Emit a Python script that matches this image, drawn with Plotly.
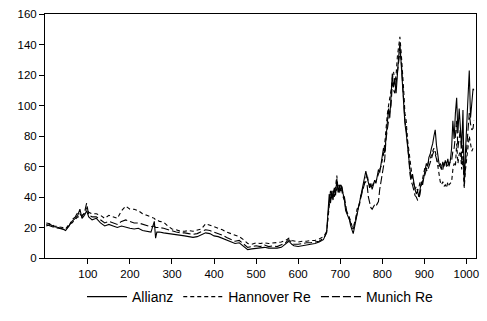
import plotly.graph_objects as go

# observation index (x axis)
day = [1, 10, 20, 30, 40, 47, 55, 62, 70, 76, 81, 86, 92, 97, 102, 110, 120, 130, 140, 150,
       160, 170, 180, 190, 200, 210, 220, 230, 240, 250, 258, 261, 264, 270, 280, 290, 300,
       310, 320, 330, 340, 350, 360, 370, 380, 390, 400, 410, 420, 430, 440, 450, 460, 470,
       480, 490, 500, 510, 520, 530, 540, 550, 560, 570, 578, 585, 590, 600, 610, 620, 630,
       640, 650, 655, 660,
       665, 668, 671, 674, 677, 680, 683, 686, 689, 692, 695, 698, 701, 704, 707, 710,
       713, 716, 719, 722, 725, 728, 731, 734, 737, 740, 743, 746, 749, 752, 755, 758,
       761, 764, 767, 770, 773, 776, 779, 782, 785, 788, 791, 794, 797, 800, 803, 806,
       809, 812, 815, 818, 821, 824, 827, 830, 833, 836, 839, 842, 845, 848, 851, 854,
       857, 860, 863, 866, 869, 872, 875, 878, 881, 884, 887, 890, 893, 896, 899, 902,
       905, 908, 911, 914, 917, 920, 923, 926, 929, 932, 935, 938, 941, 944, 947, 950,
       953, 956, 959, 962, 965, 968, 971, 974, 977, 980, 983, 986, 989, 992, 995, 998,
       1001, 1004, 1007, 1010, 1013, 1016, 1018]

allianz = [21, 22, 20.5, 20, 19, 18, 21, 24, 26, 28, 32, 26, 28, 31, 27, 25, 26, 23, 21, 22,
           21, 20, 21, 20, 19.5, 19, 19.5, 18, 17.5, 17, 24, 13, 17, 17, 16.5, 16, 15.5,
           15, 15, 14.5, 14, 13.5, 14, 15.5, 16.5, 16, 14.5, 14, 13, 11.5, 10.5, 9.5, 10, 8,
           5.5, 6, 6.5, 6.5, 7, 6.5, 6.5, 6.5, 7, 9, 11, 9, 8, 7.5, 8, 8.5, 9,
           9.5, 10.5, 11, 12,
           15, 18, 30, 42, 36, 44, 38, 46, 41, 52, 43, 48, 44, 47, 42, 38,
           31, 29, 27, 25, 21, 18, 16, 20, 24, 29, 33, 37, 42, 45, 50, 54,
           57, 53, 48, 46, 49, 45, 48, 51, 49, 55, 58, 56, 62, 66, 72, 69,
           80, 85, 98, 92, 108, 121, 112, 117, 108, 125, 132, 141, 128, 112, 105, 88,
           82, 72, 66, 58, 52, 55, 48, 45, 42, 44, 40, 46, 50, 48, 55, 58,
           62, 60, 66, 68, 72, 75, 80, 84, 74, 68, 62, 60, 58, 63, 60, 64,
           61, 65, 60, 64, 72, 90, 78, 95, 105, 82, 98, 85, 72, 97, 47, 70,
           88, 100, 123, 92, 104, 111, 110]

hannover = [23, 22.5, 21, 20.5, 20, 19, 22, 23, 25, 27, 27, 28, 29, 33, 30, 29, 29, 28, 26, 28,
            27, 26, 31, 34, 32, 32, 31, 29, 28, 27, 26, 25, 25, 24, 23.5, 21, 19,
            18.5, 17.5, 17.5, 18, 17.5, 18, 19, 22.5, 21.5, 20.5, 20, 18.5, 17, 16, 15.5, 14, 12,
            9.5, 9, 10, 9.5, 10, 9.5, 10, 10, 10.5, 11.5, 13, 11.5, 11, 10.5, 11, 11, 11.5,
            11.5, 12.5, 13, 14,
            16, 17, 26, 36, 42, 38, 44, 40, 47, 54, 45, 42, 46, 44, 40, 38,
            33, 30, 29, 27, 24, 21, 20, 23, 26, 32, 34, 35, 41, 44, 47, 50,
            52, 55, 50, 48, 46, 47, 49, 48, 50, 53, 55, 58, 60, 64, 68, 75,
            86, 94, 100, 104, 110, 118, 122, 115, 120, 132, 140, 145, 135, 118, 110, 95,
            90, 78, 70, 62, 58, 52, 47, 45, 47, 44, 46, 50, 48, 52, 58, 60,
            58, 62, 64, 65, 68, 70, 72, 70, 66, 60, 56, 50, 48, 50, 47, 48,
            46, 50, 48, 49, 50, 58, 62, 60, 75, 62, 68, 70, 58, 66, 46, 58,
            65, 72, 80, 75, 70, 72, 72]

munich = [22, 21, 20, 19.5, 19, 18.5, 21, 25, 27, 30, 29, 27, 30, 36, 28, 27, 27, 25, 23, 24,
          23, 22, 24, 25, 24, 23, 23, 22, 21, 20.5, 21, 20, 20, 20, 19.5, 18.5, 17.5,
          17, 16.5, 16.5, 16, 15.5, 16, 17, 18.5, 18, 17, 16.5, 15, 13.5, 12.5, 11, 11.5, 9.5,
          7, 7.5, 8, 7.5, 8.5, 7.5, 8, 7.5, 8.5, 10, 12, 10, 9, 9, 9.5, 10, 10,
          10.5, 11, 12, 13,
          15, 17, 28, 38, 44, 40, 42, 45, 43, 46, 48, 44, 49, 46, 41, 40,
          34, 30, 28, 26, 23, 20, 19, 22, 25, 29, 33, 36, 40, 43, 46, 49,
          50, 48, 40, 36, 33, 32, 34, 35, 34, 36, 37, 45, 52, 55, 60, 65,
          78, 86, 90, 96, 100, 115, 110, 108, 115, 120, 128, 135, 130, 115, 105, 90,
          85, 72, 66, 55, 50, 48, 43, 41, 40, 38, 39, 42, 48, 50, 52, 55,
          58, 57, 60, 62, 65, 68, 70, 68, 64, 62, 60, 62, 60, 58, 62, 63,
          60, 61, 62, 63, 64, 70, 72, 80, 90, 72, 78, 85, 62, 75, 50, 62,
          72, 85, 95, 88, 84, 85, 90]

names = ["Allianz", "Hannover Re", "Munich Re"]
series = [allianz, hannover, munich]
dashes = ["solid", "4px,3px", "8px,3px"]

fig = go.Figure()
for n, s, d in zip(names, series, dashes):
    fig.add_trace(go.Scatter(x=day, y=s, mode="lines", name=n,
                             line=dict(color="black", width=1.1, dash=d)))

axis_common = dict(showline=True, linecolor="black", linewidth=1, mirror=True,
                   showgrid=False, zeroline=False, ticks="outside", ticklen=5,
                   tickcolor="black", tickfont=dict(size=11.5, color="black",
                                                   family="Liberation Sans, Arial"))

fig.update_xaxes(range=[-2, 1023], tickvals=[100, 200, 300, 400, 500, 600, 700, 800, 900, 1000],
                 **axis_common)
fig.update_yaxes(range=[0, 160], tickvals=[0, 20, 40, 60, 80, 100, 120, 140, 160],
                 **axis_common)

fig.update_layout(
    width=487, height=321,
    margin=dict(l=45, r=8, t=13, b=57),
    paper_bgcolor="white", plot_bgcolor="white",
    font=dict(family="Liberation Sans, Arial", color="black"),
    showlegend=True,
    legend=dict(orientation="h", x=0.5, xanchor="center", y=-0.16, yanchor="middle",
                itemwidth=40,
                font=dict(size=14, color="black", family="Liberation Sans, Arial"),
                bgcolor="rgba(0,0,0,0)"),
)

fig.write_html("out.html")
